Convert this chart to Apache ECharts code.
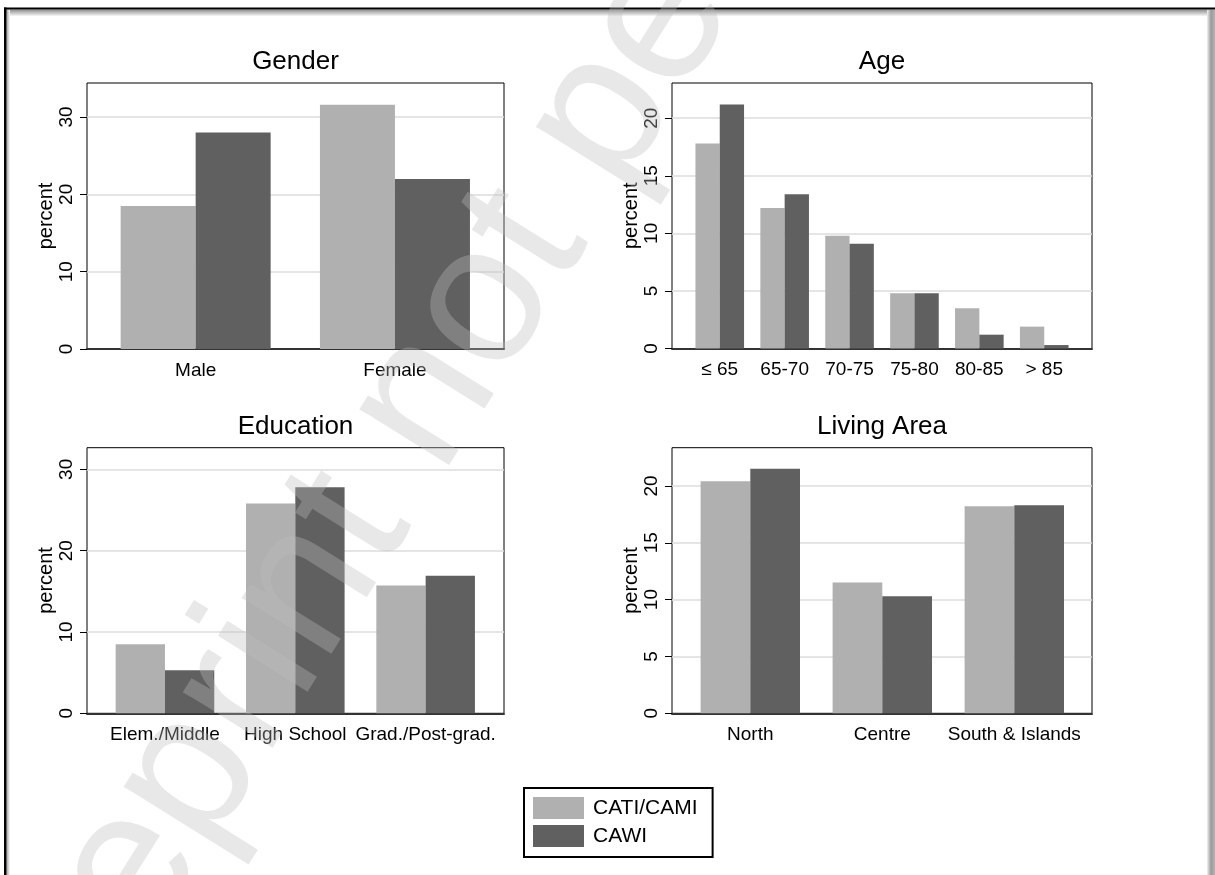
<!DOCTYPE html>
<html>
<head>
<meta charset="utf-8">
<script src="https://cdn.jsdelivr.net/npm/echarts@6/dist/echarts.min.js"></script>
<style>
  html, body { margin: 0; padding: 0; background: #fff; }
  #chart { width: 1215px; height: 875px; }
</style>
</head>
<body>
<div id="chart"></div>
<script>
// Sample composition (percent of respondents) by interview mode
const seriesNames = ['CATI/CAMI', 'CAWI'];

const genderCategories = ['Male', 'Female'];
const genderCati = [18.5, 31.6];
const genderCawi = [28.0, 22.0];
const genderTicks = [0, 10, 20, 30];

const ageCategories = ['≤ 65', '65-70', '70-75', '75-80', '80-85', '> 85'];
const ageCati = [17.8, 12.2, 9.8, 4.8, 3.5, 1.9];
const ageCawi = [21.2, 13.4, 9.1, 4.8, 1.2, 0.3];
const ageTicks = [0, 5, 10, 15, 20];

const educationCategories = ['Elem./Middle', 'High School', 'Grad./Post-grad.'];
const educationCati = [8.5, 25.8, 15.7];
const educationCawi = [5.3, 27.8, 16.9];
const educationTicks = [0, 10, 20, 30];

const areaCategories = ['North', 'Centre', 'South & Islands'];
const areaCati = [20.4, 11.5, 18.2];
const areaCawi = [21.5, 10.3, 18.3];
const areaTicks = [0, 5, 10, 15, 20];

const FONT = 'Liberation Sans, Arial, Helvetica, sans-serif';
const LIGHT = '#b0b0b0';
const DARK = '#606060';

// frame = plot region box; bars = inner band where categories are laid out
const panels = [
  { title: 'Gender', cats: genderCategories, cati: genderCati, cawi: genderCawi, ticks: genderTicks,
    max: 34.4, step: 10, frame: { left: 87, top: 83, width: 417, height: 266 },
    bars: { left: 96, width: 398.6 }, barWidth: 75 },
  { title: 'Age', cats: ageCategories, cati: ageCati, cawi: ageCawi, ticks: ageTicks,
    max: 23.06, step: 5, frame: { left: 672, top: 83, width: 420, height: 265.5 },
    bars: { left: 687.3, width: 389.4 }, barWidth: 24.3 },
  { title: 'Education', cats: educationCategories, cati: educationCati, cawi: educationCawi, ticks: educationTicks,
    max: 32.66, step: 10, frame: { left: 87, top: 447.7, width: 417, height: 265.6 },
    bars: { left: 99.8, width: 391 }, barWidth: 49.3 },
  { title: 'Living Area', cats: areaCategories, cati: areaCati, cawi: areaCawi, ticks: areaTicks,
    max: 23.36, step: 5, frame: { left: 672, top: 447.7, width: 420, height: 265.6 },
    bars: { left: 684.3, width: 396 }, barWidth: 49.7 }
];

const grids = [], xAxes = [], yAxes = [], series = [], graphics = [];

panels.forEach((p, i) => {
  const gFrame = i * 2, gBars = i * 2 + 1;
  grids.push({
    left: p.frame.left, top: p.frame.top, width: p.frame.width, height: p.frame.height,
    show: true, borderColor: '#000', borderWidth: 1, backgroundColor: 'transparent'
  });
  grids.push({
    left: p.bars.left, top: p.frame.top, width: p.bars.width, height: p.frame.height, show: false
  });

  xAxes.push({
    gridIndex: gFrame, type: 'category', data: p.cats,
    axisLine: { show: true, lineStyle: { color: '#333', width: 2 } },
    axisTick: { show: false }, axisLabel: { show: false }, splitLine: { show: false }
  });
  xAxes.push({
    gridIndex: gBars, type: 'category', data: p.cats,
    axisLine: { show: false }, axisTick: { show: false },
    axisLabel: { interval: 0, margin: 12, fontSize: 19, color: '#000', fontFamily: FONT }
  });

  yAxes.push({
    gridIndex: gFrame, type: 'value', min: 0, max: p.max, interval: p.step,
    name: 'percent', nameLocation: 'middle', nameRotate: 90, nameGap: 31,
    nameTextStyle: { fontSize: 20, color: '#000', fontFamily: FONT },
    axisLine: { show: false },
    axisTick: { show: true, length: 7, customValues: p.ticks, lineStyle: { color: '#000', width: 1 } },
    axisLabel: { rotate: 90, margin: 11, fontSize: 19, color: '#000', fontFamily: FONT,
                 customValues: p.ticks },
    splitLine: { show: true, lineStyle: { color: '#dcdcdc', width: 1.5 } }
  });
  yAxes.push({ gridIndex: gBars, type: 'value', min: 0, max: p.max, show: false });

  [[seriesNames[0], p.cati, LIGHT], [seriesNames[1], p.cawi, DARK]].forEach(([name, data, color]) => {
    series.push({
      type: 'bar', name, data, xAxisIndex: gBars, yAxisIndex: gBars,
      barWidth: p.barWidth, barGap: '0%', itemStyle: { color }, z: 3
    });
  });

  graphics.push({
    type: 'text', x: p.frame.left + p.frame.width / 2, y: p.frame.top - 21,
    style: { text: p.title, font: '26px ' + FONT, fill: '#000', textAlign: 'center', textVerticalAlign: 'middle' }
  });
});

// outer figure border with its soft inner shading
graphics.push(
  { type: 'rect', shape: { x: 6.5, y: 9.5, width: 1203, height: 7 },
    style: { fill: new echarts.graphic.LinearGradient(0, 0, 0, 1, [
      { offset: 0, color: '#8c8c8c' }, { offset: 1, color: '#ffffff' }]) }, z: 1 },
  { type: 'rect', shape: { x: 6.5, y: 9.5, width: 3.5, height: 866 },
    style: { fill: new echarts.graphic.LinearGradient(0, 0, 1, 0, [
      { offset: 0, color: '#9a9a9a' }, { offset: 1, color: '#ffffff' }]) }, z: 1 },
  { type: 'rect', shape: { x: 1207, y: 9.5, width: 8, height: 866 },
    style: { fill: new echarts.graphic.LinearGradient(0, 0, 1, 0, [
      { offset: 0, color: '#f0f0f0' }, { offset: 0.5, color: '#9a9a9a' }, { offset: 1, color: '#b4b4b4' }]) }, z: 1 },
  { type: 'rect', shape: { x: 4, y: 7.5, width: 1211, height: 2 }, style: { fill: '#000' }, z: 2 },
  { type: 'rect', shape: { x: 4, y: 7.5, width: 2.5, height: 868 }, style: { fill: '#000' }, z: 2 }
);

// diagonal preprint watermark
graphics.push({
  type: 'text', x: 616, y: 94, rotation: 58 * Math.PI / 180, z: 100,
  style: { text: 'Preprint not peer reviewed', font: '200px ' + FONT,
           fill: 'rgba(188,188,188,0.35)', textAlign: 'center', textVerticalAlign: 'middle' }
});

const chart = echarts.init(document.getElementById('chart'), null, { renderer: 'canvas' });
chart.setOption({
  animation: false,
  backgroundColor: '#fff',
  textStyle: { fontFamily: FONT },
  grid: grids,
  xAxis: xAxes,
  yAxis: yAxes,
  series,
  legend: {
    data: seriesNames, orient: 'vertical', left: 524, top: 788,
    itemWidth: 51, itemHeight: 22, itemGap: 6, icon: 'rect', selectedMode: false,
    padding: [9, 15, 10, 9], borderColor: '#000', borderWidth: 2,
    textStyle: { fontSize: 21, color: '#000', fontFamily: FONT, padding: [0, 0, 0, 4] }
  },
  graphic: graphics
});
</script>
</body>
</html>
